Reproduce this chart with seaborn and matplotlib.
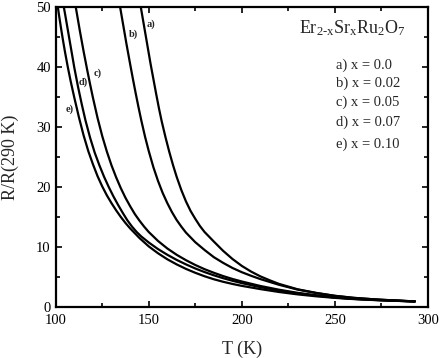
import numpy as np
import pandas as pd
import matplotlib
matplotlib.use("Agg")
import matplotlib.pyplot as plt
import seaborn as sns
from matplotlib.ticker import MultipleLocator

# ---- data (T in K, R/R(290 K)) ----
T_a = [145, 146, 147, 148, 149, 150, 151, 152.5, 154, 155.5, 157, 159, 161, 163, 165, 167.5, 170, 172.5, 175, 177.5, 180,
       185, 190, 195, 200, 205, 210, 215, 220, 230, 240, 250, 260, 270, 280, 293]
R_a = [51.3, 49.5, 47.7, 45.9, 44.1, 42.3, 40.5, 38.0, 35.5, 33.1, 30.9, 28.3, 25.9, 23.7, 21.7, 19.5, 17.6, 16.0, 14.7, 13.5, 12.5,
       10.9, 9.35, 8.0, 6.85, 5.9, 5.1, 4.45, 3.85, 2.95, 2.35, 1.87, 1.53, 1.3, 1.12, 0.93]

T_b = [134, 135, 136, 137, 138, 139, 140, 141.5, 143, 144.5, 146, 148, 150, 152.5, 155, 157.5, 160, 162.5, 165, 167.5, 170,
       175, 180, 185, 190, 195, 200, 205, 210, 220, 230, 240, 250, 260, 270, 280, 293]
R_b = [51.1, 49.3, 47.5, 45.7, 43.9, 42.2, 40.5, 38.0, 35.6, 33.3, 31.1, 28.4, 26.0, 23.3, 21.0, 19.0, 17.3, 15.8, 14.5, 13.4, 12.4,
       10.8, 9.5, 8.3, 7.35, 6.5, 5.8, 5.2, 4.65, 3.7, 2.9, 2.32, 1.85, 1.52, 1.3, 1.12, 0.93]

T_c = [110, 111, 112, 113, 114, 115, 116, 117, 118.5, 120, 122.5, 125, 127.5, 130, 132.5, 135, 137.5, 140, 142.5, 145, 147.5, 150,
       155, 160, 165, 170, 175, 180, 185, 190, 195, 200, 210, 220, 230, 240, 250, 260, 270, 280, 293]
R_c = [51.3, 49.6, 47.8, 46.0, 44.3, 42.6, 41.0, 39.4, 37.1, 34.9, 31.5, 28.5, 25.9, 23.6, 21.6, 19.8, 18.2, 16.8, 15.5, 14.4, 13.4, 12.5,
       11.0, 9.75, 8.7, 7.8, 7.0, 6.3, 5.7, 5.15, 4.67, 4.25, 3.5, 2.88, 2.36, 1.95, 1.6, 1.37, 1.2, 1.07, 0.93]

T_d = [104, 105, 106, 107, 108, 109, 110, 112, 114, 116, 118.5, 121, 123.5, 126, 128.5, 131, 133.5, 136, 138.5, 141, 143.5, 146,
       150, 155, 160, 165, 170, 175, 180, 185, 190, 195, 200, 210, 220, 230, 240, 250, 260, 270, 280, 293]
R_d = [50.6, 48.9, 47.1, 45.3, 43.5, 41.7, 39.9, 36.7, 33.8, 31.1, 28.2, 25.7, 23.6, 21.7, 20.0, 18.45, 17.03, 15.7, 14.45, 13.4, 12.5, 11.75,
       10.75, 9.65, 8.7, 7.85, 7.1, 6.42, 5.82, 5.28, 4.8, 4.37, 3.98, 3.3, 2.75, 2.28, 1.9, 1.57, 1.35, 1.19, 1.06, 0.93]

T_e = [100, 101, 102, 103, 104, 105, 106.5, 108, 110, 112.5, 115, 117.5, 120, 122.5, 125, 127.5, 130, 132.5, 135, 137.5, 140,
       145, 150, 155, 160, 165, 170, 175, 180, 185, 190, 195, 200, 210, 220, 230, 240, 250, 260, 270, 280, 293]
R_e = [52.5, 50.3, 48.2, 46.2, 44.3, 42.5, 40.0, 37.7, 34.9, 31.6, 28.6, 26.0, 23.8, 21.8, 20.1, 18.6, 17.3, 16.1, 15.0, 14.0, 13.1,
       11.5, 10.1, 8.95, 7.95, 7.1, 6.35, 5.7, 5.12, 4.62, 4.2, 3.84, 3.52, 2.98, 2.5, 2.1, 1.78, 1.52, 1.32, 1.17, 1.05, 0.93]

curve_names = ["a", "b", "c", "d", "e"]
legend_lines = ["a) x = 0.0", "b) x = 0.02", "c) x = 0.05", "d) x = 0.07", "e) x = 0.10"]
label_T = [151, 142, 122.4, 114.9, 107.6]
label_R = [47.2, 45.4, 39.0, 37.4, 33.0]

frames = []
for name, T, R in zip(curve_names, [T_a, T_b, T_c, T_d, T_e], [R_a, R_b, R_c, R_d, R_e]):
    frames.append(pd.DataFrame({"T": T, "R": R, "curve": name}))
df = pd.concat(frames, ignore_index=True)

sns.set_style("ticks")
plt.rcParams["font.family"] = ["Liberation Serif", "DejaVu Serif"]
plt.rcParams["mathtext.fontset"] = "custom"
plt.rcParams["mathtext.rm"] = "Liberation Serif"
plt.rcParams["mathtext.it"] = "Liberation Serif"

fig = plt.figure(figsize=(4.42, 3.58), dpi=100)
ax = fig.add_axes([0.126, 0.1425, 0.842, 0.838])

sns.lineplot(data=df, x="T", y="R", units="curve", estimator=None,
             color="black", linewidth=1.6, sort=True, ax=ax, legend=False)

ax.set_xlim(100, 300)
ax.set_ylim(0, 50)
ax.xaxis.set_major_locator(MultipleLocator(50))
ax.xaxis.set_minor_locator(MultipleLocator(25))
ax.yaxis.set_major_locator(MultipleLocator(10))
ax.yaxis.set_minor_locator(MultipleLocator(5))
ax.tick_params(which="both", direction="in", top=True, right=True, width=1.2,
               labelsize=10.5, colors="black")
ax.tick_params(which="major", length=4.5)
ax.tick_params(which="minor", length=3)
ax.tick_params(axis="x", pad=5)
for s in ax.spines.values():
    s.set_linewidth(1.6)
    s.set_color("black")

ax.set_xlabel("T (K)", fontsize=13, labelpad=10)
ax.set_ylabel("R/R(290 K)", fontsize=13, labelpad=12.5)

for name, tx, ry in zip(curve_names, label_T, label_R):
    ax.text(tx, ry, name + ")", fontsize=7.5, fontweight="bold", ha="center", va="center")

ax.text(0.796, 0.93, r"$\mathrm{Er_{2\text{-}x}Sr_xRu_2O_7}$", transform=ax.transAxes,
        fontsize=13, ha="center", va="center")
ys = [0.807, 0.747, 0.683, 0.617, 0.543]
for txt, yy in zip(legend_lines, ys):
    ax.text(0.752, yy, txt, transform=ax.transAxes, fontsize=10.5, ha="left", va="center")

fig.savefig("out.png", dpi=100)
